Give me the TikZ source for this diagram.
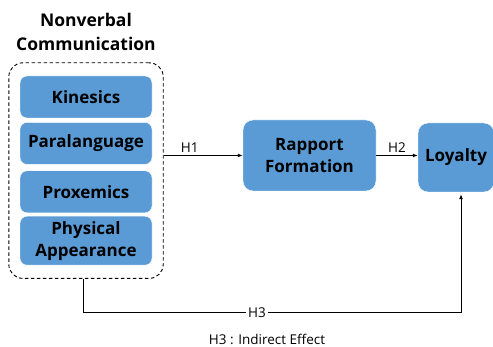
\documentclass[tikz,border=0pt]{standalone}
\usepackage{fontspec}
\setmainfont{Open Sans}
\usetikzlibrary{positioning,fit,arrows.meta}
\definecolor{boxblue}{HTML}{5B9BD5}

\begin{document}
\begin{tikzpicture}[x=1pt,y=-1pt,
  bluebox/.style={rectangle, rounded corners=7pt, draw=white, fill=boxblue, thin, minimum width=132pt, minimum height=42pt, align=center, inner sep=1pt, font=\bfseries\fontsize{17}{22}\selectfont},
  groupbox/.style={rectangle, draw, line width=0.9pt, dash pattern=on 3.5pt off 2.5pt, rounded corners=14pt, inner xsep=11pt, inner ysep=13pt},
  hlabel/.style={font=\fontsize{13.5}{16}\selectfont, inner sep=2pt},
  link/.style={-{Latex[length=5pt,width=4pt]}, line width=1pt}]
  \useasboundingbox (0,0) rectangle (493,347);

  \node[font=\bfseries\fontsize{17.5}{24}\selectfont, align=center] (title) at (86,32) {Nonverbal\\Communication};

  \node[bluebox] (kin) at (86,97) {Kinesics};
  \node[bluebox] (para) [below=4pt of kin] {Paralanguage};
  \node[bluebox] (prox) [below=6pt of para] {Proxemics};
  \node[bluebox, minimum height=49pt] (phys) [below=3pt of prox] {Physical\\Appearance};
  \node[groupbox, fit=(kin)(phys)] (group) {};

  \node[bluebox, minimum width=133pt, minimum height=71pt, rounded corners=10pt] (rap) at (309.5,155.5) {Rapport\\Formation};
  \node[bluebox, minimum width=76pt, minimum height=69pt, rounded corners=10pt] (loy) at (456,157.5) {Loyalty};

  \coordinate (h3l) at (83,313);
  \coordinate (h3r) at (461,313);

  \draw[link] (group.east |- rap.west) -- node[hlabel, above, pos=0.33] {H1} (rap.west);
  \draw[link] (rap.east) -- node[hlabel, above] {H2} (loy.west |- rap.east);
  \draw[link, shorten >=2pt] (group.south -| h3l) -- (h3l) -- node[hlabel, fill=white, pos=0.46] {H3} (h3r) -- (loy.south -| h3r);

  \node[hlabel] (note) at (267,339) {H3 : Indirect Effect};
\end{tikzpicture}
\end{document}
